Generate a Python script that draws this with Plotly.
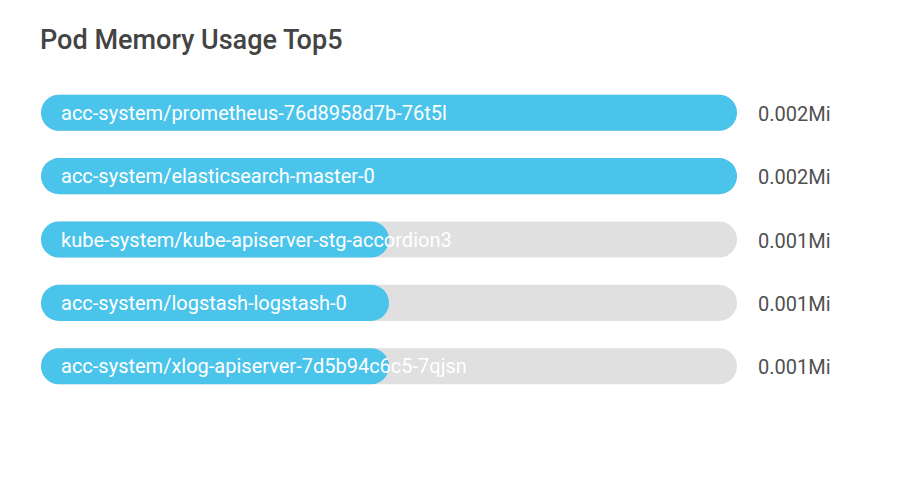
import plotly.graph_objects as go

pods = [
    "acc-system/prometheus-76d8958d7b-76t5l",
    "acc-system/elasticsearch-master-0",
    "kube-system/kube-apiserver-stg-accordion3",
    "acc-system/logstash-logstash-0",
    "acc-system/xlog-apiserver-7d5b94c6c5-7qjsn",
]
usage = [0.002, 0.002, 0.001, 0.001, 0.001]
value_labels = ["0.002Mi", "0.002Mi", "0.001Mi", "0.001Mi", "0.001Mi"]
max_usage = 0.002

BLUE = "#4bc4eb"
GREY = "#e0e0e0"
RADIUS = 18
WIDTH = 0.57

fig = go.Figure()

def pill(values, color):
    fig.add_trace(go.Bar(
        y=pods, x=values, base=[0] * len(values), orientation="h",
        marker=dict(color=color, cornerradius=RADIUS, line=dict(width=0)),
        width=WIDTH, hoverinfo="skip", showlegend=False,
    ))

pill([max_usage] * len(pods), GREY)
pill(usage, BLUE)

annotations = []
for pod, lab in zip(pods, value_labels):
    annotations.append(dict(
        x=0, y=pod, xref="x", yref="y", text=pod, showarrow=False,
        xanchor="left", xshift=18, yanchor="middle",
        font=dict(family="Roboto", size=20, color="#ffffff"),
    ))
    annotations.append(dict(
        x=1, y=pod, xref="paper", yref="y", text=lab, showarrow=False,
        xanchor="left", xshift=19, yanchor="middle", yshift=-1,
        font=dict(family="Roboto", size=20, color="#505050"),
    ))

fig.update_layout(
    width=919, height=494,
    margin=dict(l=41, r=182, t=81, b=96),
    paper_bgcolor="white", plot_bgcolor="white",
    barmode="overlay",
    title=dict(
        text="Pod Memory Usage Top5",
        x=40 / 919, xanchor="left", xref="container",
        y=1 - 40 / 494, yanchor="middle", yref="container",
        font=dict(family="Roboto Medium, Roboto", size=27, color="#444444"),
    ),
    xaxis=dict(range=[0, max_usage], visible=False, fixedrange=True),
    yaxis=dict(autorange="reversed", visible=False, fixedrange=True,
               categoryorder="array", categoryarray=pods),
    annotations=annotations,
    showlegend=False,
)

fig.write_html("out.html", config={"displayModeBar": False})
